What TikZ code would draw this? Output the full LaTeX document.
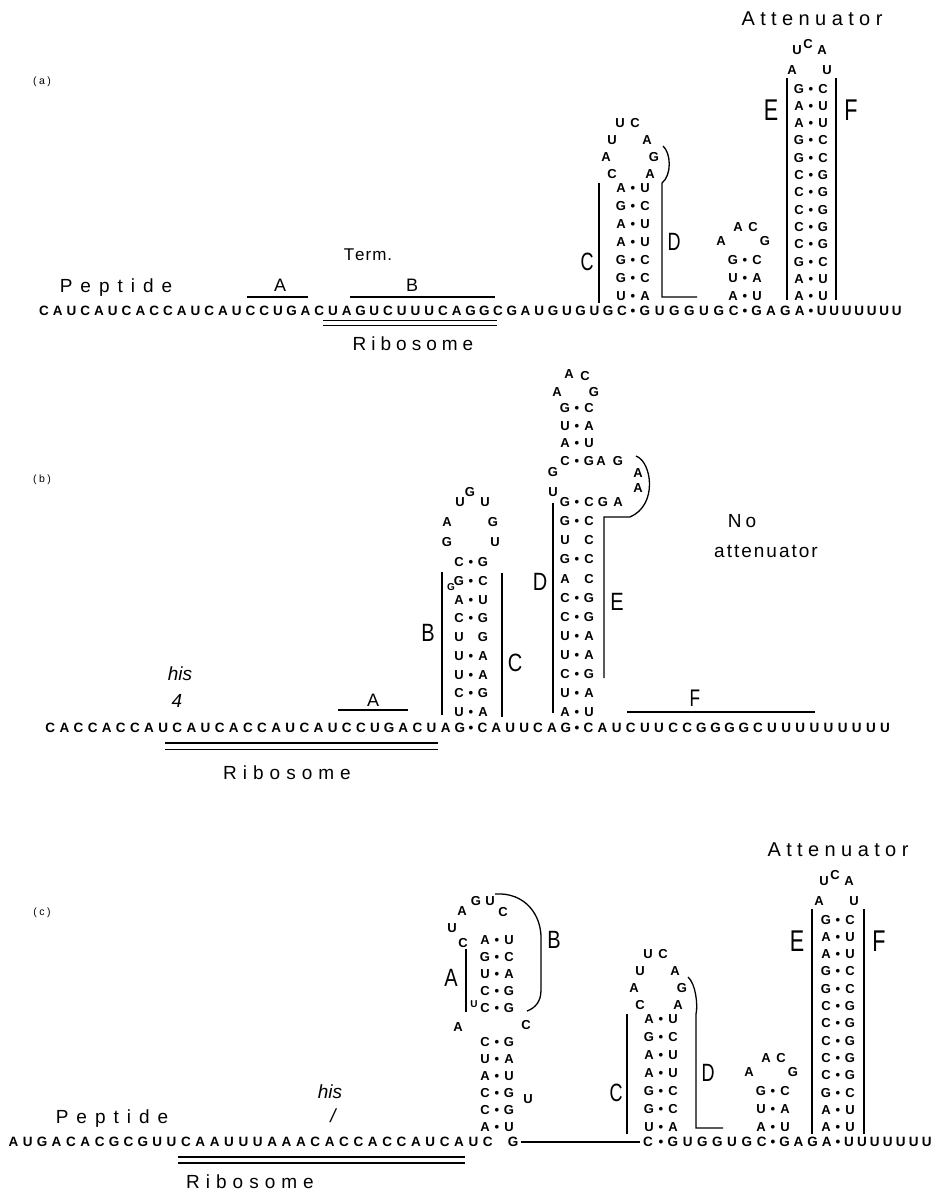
\documentclass[tikz,border=0pt]{standalone}
\usepackage{fontspec}
\usepackage{graphicx}
\setmainfont{Liberation Sans}
\newcommand\rnas[2]{\def\rnaw{#1pt}\edef\rnatmp{#2}\expandafter\rnaloop\rnatmp\relax}
\def\rnaloop#1{\ifx#1\relax\else\ifx#1-\makebox[\rnaw]{}\else\makebox[\rnaw]{#1}\fi\expandafter\rnaloop\fi}
\newcommand\lspc[2]{\def\lspk{#1pt}\lsploop#2\relax\unkern}
\def\lsploop#1{\ifx#1\relax\else#1\kern\lspk\expandafter\lsploop\fi}
\newcommand\sx[1]{\scalebox{0.72}[1]{#1}}
\tikzset{
  seq/.style={inner sep=0pt, font=\fontsize{13.5}{15}\selectfont\bfseries, text height=9.7pt, text depth=0pt},
  pr/.style={inner sep=0pt, font=\fontsize{13}{15}\selectfont\bfseries, text height=9.3pt, text depth=0pt},
  sml/.style={inner sep=0pt, font=\fontsize{10}{11}\selectfont\bfseries},
  lab/.style={inner sep=0pt, font=\fontsize{19}{22}\selectfont, anchor=base},
  slab/.style={inner sep=0pt, font=\fontsize{#1}{#1}\selectfont},
  tag/.style={inner sep=0pt, font=\fontsize{10.5}{12}\selectfont},
  ln/.style={line width=1.3pt},
  dl/.style={line width=1.1pt},
}
\begin{document}
\begin{tikzpicture}[x=1pt,y=-1pt]
\path[use as bounding box, fill=white] (0,0) rectangle (941,1194);

%%%%%%%%%%%%%%%%%%%% PANEL (a)
\node[tag] (aTag) at (42,82) {\lspc{2.5}{(a)}};
\node[lab] (aPep) at (116,292) {\lspc{8}{Peptide}};
\node[lab, font=\fontsize{17}{20}\selectfont] (aTerm) at (368,260) {\lspc{1}{Term.}};
\node[lab, font=\fontsize{18}{20}\selectfont] (aA) at (280,291) {A};
\node[lab, font=\fontsize{18}{20}\selectfont] (aB) at (412,291) {B};
\draw[ln] (247,297) -- (308,297);
\draw[ln] (350,297) -- (495,297);
% sequence
\node[seq,anchor=west] (aS1) at (37,311) {\rnas{13.76}{CAUCAUCACCAUCAUCCUGACUAGUCUUUCAGGCGAUGUGUGC}};
\node[seq] (aD1) at (633,311) {•};
\node[seq,anchor=west] (aS2) at (637.25,311) {\rnas{14.8}{GUGGUGC}};
\node[seq] (aD2) at (745,311) {•};
\node[seq,anchor=west] (aS3) at (749.25,311) {\rnas{14.4}{GAGA}};
\node[seq] (aD3) at (811,311) {•};
\node[seq,anchor=west] (aS4) at (815.25,311) {\rnas{12.5}{UUUUUUU}};
\draw[dl] (323,320.5) -- (497,320.5);
\draw[dl] (323,325.5) -- (497,325.5);
\node[lab] (aRib) at (413,350) {\lspc{5}{Ribosome}};
% C/D stem
\foreach \py/\pp [count=\i] in {188/A•U,206/G•C,224/A•U,242/A•U,260/G•C,278/G•C,296/U•A}
  \node[pr] (aCDp\i) at (633,\py) {\rnas{12}{\pp}};
\foreach \lx/\ly/\lt [count=\i] in {612/174/C,606/157/A,612/140/U,620/123/U,635/123/C,647/140/A,654/157/G,650/174/A}
  \node[pr] (aCDl\i) at (\lx,\ly) {\lt};
\draw[ln] (599,183) -- (599,303);
\node[slab=25] (aLC) at (587,262) {\sx{C}};
\draw[ln] (663,146) .. controls (671,153) and (672,175) .. (662,183) -- (662,297) -- (697,297);
\node[slab=25] (aLD) at (674,242) {\sx{D}};
% small stem
\foreach \py/\pp [count=\i] in {260/G•C,278/U•A,296/A•U}
  \node[pr] (aSp\i) at (745,\py) {\rnas{12}{\pp}};
\foreach \lx/\ly/\lt [count=\i] in {721/241/A,738/227/A,753/227/C,765/241/G}
  \node[pr] (aSl\i) at (\lx,\ly) {\lt};
% E/F attenuator stem
\foreach \py/\pp [count=\i] in {88.4/G•C,105.7/A•U,123/A•U,140.3/G•C,157.6/G•C,174.9/C•G,192.2/C•G,209.5/C•G,226.8/C•G,244.1/C•G,261.4/G•C,278.7/A•U,296/A•U}
  \node[pr] (aEFp\i) at (811,\py) {\rnas{12}{\pp}};
\foreach \lx/\ly/\lt [count=\i] in {792/70/A,797/50/U,808/44/C,822/50/A,827/70/U}
  \node[pr] (aEFl\i) at (\lx,\ly) {\lt};
\draw[ln] (787,78) -- (787,300);
\draw[ln] (836,78) -- (836,300);
\node[slab=30] (aLE) at (771,110) {\sx{E}};
\node[slab=30] (aLF) at (851,110) {\sx{F}};
\node[lab, font=\fontsize{20}{22}\selectfont] (aAtt) at (812,25) {\lspc{5.4}{Attenuator}};

%%%%%%%%%%%%%%%%%%%% PANEL (b)
\node[tag] (bTag) at (42,480) {\lspc{2.5}{(b)}};
\node[lab, font=\fontsize{19}{22}\selectfont\itshape] (bHis) at (180,680) {his};
\node[lab, font=\fontsize{19}{22}\selectfont\itshape] (bFour) at (177,707) {4};
\node[lab, font=\fontsize{18}{20}\selectfont] (bA) at (373,706) {A};
\draw[ln] (338,710) -- (408,710);
\node[lab, font=\fontsize{24}{26}\selectfont] (bF) at (695,706) {\sx{F}};
\draw[ln] (627,712) -- (815,712);
\node[seq,anchor=west] (bS1) at (43,728) {\rnas{14.125}{CACCACCAUCAUCACCAUCAUCCUGACUAG}};
\node[seq] (bD1) at (471,728) {•};
\node[seq,anchor=west] (bS2) at (475.25,728) {\rnas{13.93}{CAUUCAG}};
\node[seq] (bD2) at (577,728) {•};
\node[seq,anchor=west] (bS3) at (581.25,728) {\rnas{14.12}{CAUCUUCCGGGGCUUUUUUUUU}};
\draw[dl] (165,743) -- (438,743);
\draw[dl] (165,749.5) -- (438,749.5);
\node[lab] (bRib) at (287,779) {\lspc{6}{Ribosome}};
% B/C stem
\foreach \py/\pp [count=\i] in {562/C•G,580.75/G•C,599.5/A•U,618.25/C•G,637/U-G,655.75/U•A,674.5/U•A,693.25/C•G,712/U•A}
  \node[pr] (bBCp\i) at (471,\py) {\rnas{12}{\pp}};
\foreach \lx/\ly/\lt [count=\i] in {447/542/G,447/522/A,460/502/U,470/492/G,485/502/U,493/522/G,495/542/U}
  \node[pr] (bBCl\i) at (\lx,\ly) {\lt};
\node[sml] (bBCg) at (451,587) {G};
\draw[ln] (442,572) -- (442,715);
\draw[ln] (502,573) -- (502,717);
\node[slab=25] (bLB) at (428,633) {\scalebox{0.8}[1]{B}};
\node[slab=25] (bLC) at (515,663) {\scalebox{0.8}[1]{C}};
% D/E stem
\foreach \py/\pp [count=\i] in {408/G•C,425.5/U•A,443/A•U,460.5/C•G,502/G•C,521.1/G•C,540.2/U-C,559.3/G•C,578.4/A-C,597.5/C•G,616.5/C•G,635.6/U•A,654.7/U•A,673.8/C•G,692.9/U•A,712/A•U}
  \node[pr] (bDEp\i) at (577,\py) {\rnas{12}{\pp}};
\foreach \lx/\ly/\lt [count=\i] in {569/374/A,585/376/C,557/392/A,594/392/G,601/460.5/A,618/460.5/G,553/472/G,553/492/U,638/473/A,638/488/A,603/502/G,618/502/A}
  \node[pr] (bDEl\i) at (\lx,\ly) {\lt};
\draw[ln] (553,503) -- (553,713);
\node[slab=25] (bLD) at (540,582) {\scalebox{0.8}[1]{D}};
\draw[ln] (636,456) .. controls (652,462) and (658,505) .. (630,517) -- (604,517) -- (604,678);
\node[slab=25] (bLE) at (617,602) {\scalebox{0.8}[1]{E}};
\node[lab] (bNo) at (742,527) {\lspc{4}{No}};
\node[lab] (bAtt) at (766,557) {\lspc{2}{attenuator}};

%%%%%%%%%%%%%%%%%%%% PANEL (c)
\node[tag] (cTag) at (42,913) {\lspc{2.5}{(c)}};
\node[lab] (cPep) at (112,1123) {\lspc{8}{Peptide}};
\node[lab, font=\fontsize{19}{22}\selectfont\itshape] (cHis) at (330,1098) {his};
\node[lab, font=\fontsize{19}{22}\selectfont\itshape] (cOne) at (333,1122) {/};
\node[seq,anchor=west] (cS1) at (6,1142) {\rnas{14.38}{AUGACACGCGUUCAAUUUAAACACCACCAUCAUC}};
\node[seq] (cG) at (513,1142) {G};
\node[seq] (cC) at (648,1142) {C};
\draw[ln] (cG.east) ++(3,0) -- ([xshift=-3pt]cC.west);
\node[seq] (cD1) at (661,1142) {•};
\node[seq,anchor=west] (cS2) at (665.25,1142) {\rnas{14.8}{GUGGUGC}};
\node[seq] (cD2) at (773,1142) {•};
\node[seq,anchor=west] (cS3) at (777.25,1142) {\rnas{14.1}{GAGA}};
\node[seq] (cD3) at (838,1142) {•};
\node[seq,anchor=west] (cS4) at (842.25,1142) {\rnas{12.96}{UUUUUUU}};
\draw[dl] (178,1157) -- (465,1157);
\draw[dl] (178,1163) -- (465,1163);
\node[lab] (cRib) at (250,1188) {\lspc{6}{Ribosome}};
% A/B stem
\foreach \py/\pp [count=\i] in {940/A•U,957/G•C,974/U•A,991/C•G,1008/C•G,1042/C•G,1059/U•A,1076/A•U,1093/C•G,1110/C•G,1127/A•U}
  \node[pr] (cABp\i) at (497,\py) {\rnas{12}{\pp}};
\foreach \lx/\ly/\lt [count=\i] in {463/943/C,452/928/U,462/911/A,476/901/G,490/901/U,503/912/C,458/1027/A,526/1025/C,528/1099/U}
  \node[pr] (cABl\i) at (\lx,\ly) {\lt};
\node[sml] (cABu) at (474,1004) {U};
\draw[ln] (466,949) -- (466,1012);
\node[slab=25] (cLA) at (451,978) {\scalebox{0.8}[1]{A}};
\draw[ln] (495,894) .. controls (525,892) and (542,915) .. (541,940) -- (541,990) .. controls (541,1002) and (535,1008) .. (527,1011);
\node[slab=25] (cLB) at (554,940) {\scalebox{0.8}[1]{B}};
% C/D stem
\foreach \py/\pp [count=\i] in {1019/A•U,1037/G•C,1055/A•U,1073/A•U,1091/G•C,1109/G•C,1127/U•A}
  \node[pr] (cCDp\i) at (661,\py) {\rnas{12}{\pp}};
\foreach \lx/\ly/\lt [count=\i] in {640/1005/C,634/988/A,640/971/U,648/954/U,663/954/C,675/971/A,682/988/G,678/1005/A}
  \node[pr] (cCDl\i) at (\lx,\ly) {\lt};
\draw[ln] (627,1014) -- (627,1134);
\node[slab=25] (cLC) at (616,1093) {\sx{C}};
\draw[ln] (688,977) .. controls (696,984) and (698,1006) .. (696,1014) -- (696,1128) -- (723,1128);
\node[slab=25] (cLD) at (708,1073) {\sx{D}};
% small stem
\foreach \py/\pp [count=\i] in {1091/G•C,1109/U•A,1127/A•U}
  \node[pr] (cSp\i) at (773,\py) {\rnas{12}{\pp}};
\foreach \lx/\ly/\lt [count=\i] in {749/1072/A,766/1058/A,781/1058/C,793/1072/G}
  \node[pr] (cSl\i) at (\lx,\ly) {\lt};
% E/F stem
\foreach \py/\pp [count=\i] in {919.4/G•C,936.7/A•U,954/A•U,971.3/G•C,988.6/G•C,1005.9/C•G,1023.2/C•G,1040.5/C•G,1057.8/C•G,1075.1/C•G,1092.4/G•C,1109.7/A•U,1127/A•U}
  \node[pr] (cEFp\i) at (838,\py) {\rnas{12}{\pp}};
\foreach \lx/\ly/\lt [count=\i] in {819/901/A,824/881/U,835/875/C,849/881/A,854/901/U}
  \node[pr] (cEFl\i) at (\lx,\ly) {\lt};
\draw[ln] (812,909) -- (812,1134);
\draw[ln] (864,909) -- (864,1134);
\node[slab=30] (cLE) at (797,941) {\sx{E}};
\node[slab=30] (cLF) at (879,941) {\sx{F}};
\node[lab, font=\fontsize{20}{22}\selectfont] (cAtt) at (838,856) {\lspc{5.4}{Attenuator}};
\end{tikzpicture}
\end{document}
